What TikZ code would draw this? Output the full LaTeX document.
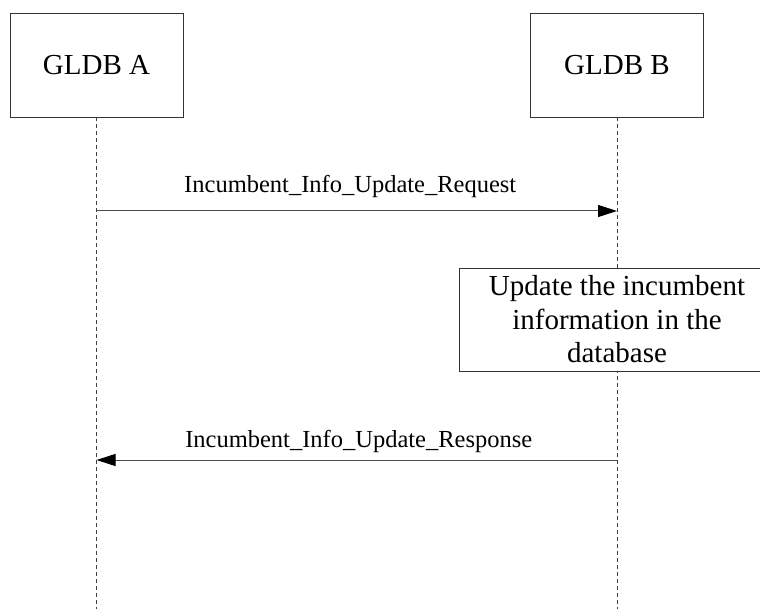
\documentclass[tikz,border=0pt]{standalone}
\usepackage{fontspec}
\setmainfont{Liberation Serif}
\usetikzlibrary{arrows.meta}
\begin{document}
\begin{tikzpicture}[x=1pt,y=-1pt,
  entity/.style={draw=black!80,line width=0.9pt,minimum width=173pt,minimum height=104pt,inner sep=0pt,font=\fontsize{29}{34}\selectfont},
  lifeline/.style={draw=black!75,line width=0.8pt,dash pattern=on 4pt off 3pt},
  msg/.style={draw=black!70,line width=1pt,-{Triangle[length=19pt,width=12pt,color=black]}},
  msglabel/.style={font=\fontsize{24.5}{28}\selectfont,inner sep=0pt},
  procbox/.style={draw=black!80,fill=white,line width=0.9pt,minimum width=316pt,minimum height=103pt,inner sep=0pt,align=center,font=\fontsize{29}{33.5}\selectfont}]
\useasboundingbox (0,0) rectangle (760,609);
\node[entity] (A) at (96.5,65) {GLDB A};
\node[entity] (B) at (617,65) {GLDB B};
\coordinate (Aend) at (96.5,609);
\coordinate (Bend) at (617,609);
\draw[lifeline] (A.south) -- (Aend);
\draw[lifeline] (B.south) -- (Bend);
\coordinate (r1a) at (96.5,211);
\coordinate (r1b) at (617,211);
\draw[msg] (r1a) -- node[msglabel,above=13pt,xshift=-6.5pt] (l1) {Incumbent\_Info\_Update\_Request} (r1b);
\node[procbox] (P) at (617,319.5) {Update the incumbent\\information in the\\database};
\coordinate (r2a) at (96.5,460);
\coordinate (r2b) at (617,460);
\draw[msg] (r2b) -- node[msglabel,above=7pt,xshift=2pt] (l2) {Incumbent\_Info\_Update\_Response} (r2a);
\end{tikzpicture}
\end{document}
